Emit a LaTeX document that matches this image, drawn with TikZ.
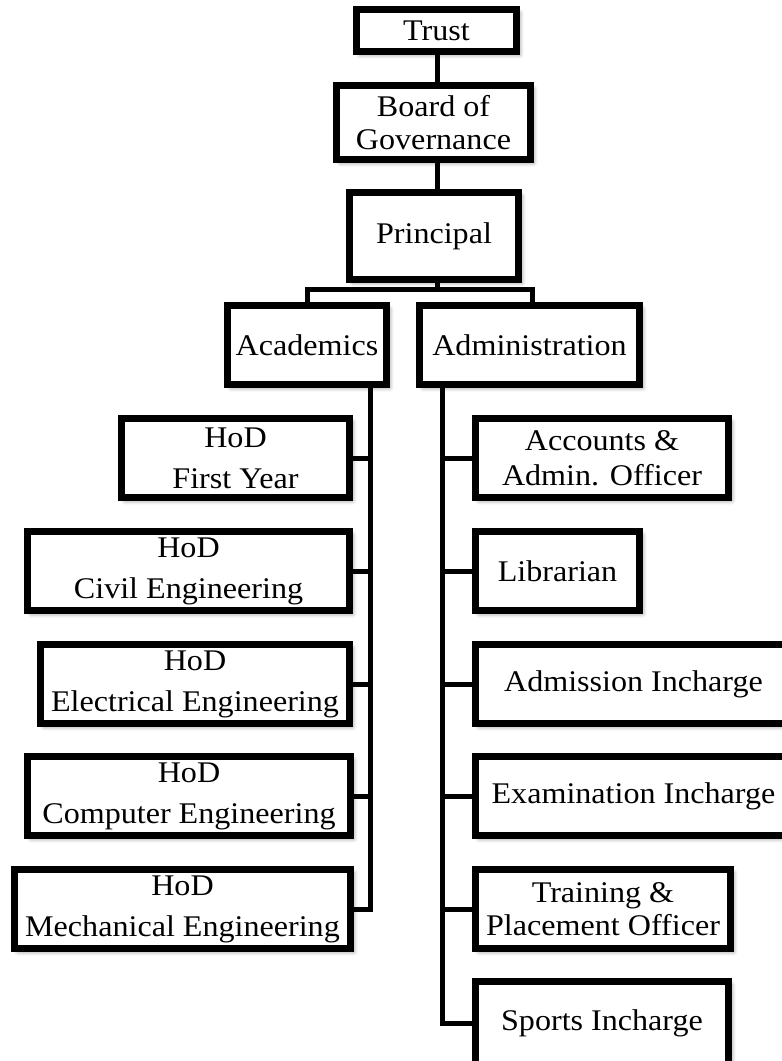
\documentclass[tikz,border=0pt]{standalone}
\usepackage{fontspec}
\setmainfont{Liberation Serif}[FakeStretch=1.07]
\usetikzlibrary{shadows.blur}
\tikzset{
  orgbox/.style={draw=black, line width=5.25pt, fill=white, inner sep=0pt, outer sep=0pt,
    align=center, font={\fontsize{22.5}{24.75}\selectfont},
    blur shadow={shadow xshift=2.5pt, shadow yshift=-2.5pt, shadow blur radius=3pt, shadow opacity=45}},
  tree/.style={line width=3.75pt, black, line join=miter}
}
% \orgnode{name}{x1}{y1}{x2}{y2}{text} -- path corners in pixel units
\newcommand\orgnode[6]{%
  \node[orgbox, minimum width={(#4-#2)*0.75pt}, minimum height={(#5-#3)*0.75pt}]
    (#1) at ({(#2+#4)/2},{(#3+#5)/2}) {#6};}
\begin{document}
\begin{tikzpicture}[x=0.75pt,y=-0.75pt]
\useasboundingbox (0,0) rectangle (782,1061);
\begin{scope}
\clip (0,0) rectangle (782,1061);
% top chain
\orgnode{trust}{356.5}{9.5}{516.5}{51.5}{Trust}
\orgnode{board}{336.5}{85.5}{530.5}{159.5}{Board of\\Governance}
\orgnode{prin}{349.5}{192.5}{518.5}{279.5}{Principal}
\orgnode{acad}{227.5}{305.5}{386.5}{384.5}{Academics}
\orgnode{admin}{419.5}{305.5}{639.5}{384.5}{Administration}
% left column
\orgnode{fy}{121.5}{418.5}{349.5}{497.5}{HoD\\[6pt]First Year}
\orgnode{civ}{27.5}{531.5}{349.5}{610.5}{HoD\\[6pt]Civil Engineering}
\orgnode{ele}{40.5}{644.5}{349.5}{723.5}{HoD\\[6pt]Electrical Engineering}
\orgnode{com}{27.5}{756.5}{350.5}{835.5}{HoD\\[6pt]Computer Engineering}
\orgnode{mec}{14.5}{869.5}{350.5}{948.5}{HoD\\[6pt]Mechanical Engineering}
% right column
\orgnode{acc}{475.5}{418.5}{728.5}{497.5}{Accounts \&\\[1.5pt]Admin. Officer}
\orgnode{lib}{475.5}{531.5}{639.5}{610.5}{Librarian}
\orgnode{adm}{475.5}{644.5}{791.5}{723.5}{Admission Incharge}
\orgnode{exa}{475.5}{756.5}{791.5}{835.5}{Examination Incharge}
\orgnode{tra}{475.5}{869.5}{730.5}{948.5}{Training \&\\Placement Officer}
\orgnode{spo}{475.5}{981.5}{728.5}{1066}{Sports Incharge}
% spine coordinates
\coordinate (lx) at (370.5,0);
\coordinate (rx) at (442,0);
\coordinate (cx) at (437,0);
\coordinate (ax) at (532,0);
% connectors
\draw[tree] (trust.south -| cx) -- (board.north -| cx);
\draw[tree] (board.south -| cx) -- (prin.north -| cx);
\draw[tree] (prin.south -| cx) -- ++(0,10) -| (acad.north);
\draw[tree] (prin.south -| cx) -- ++(0,10) -| (admin.north -| ax);
% left spine
\draw[tree] (acad.south -| lx) |- (mec.east);
\draw[tree] (fy.east -| lx) -- (fy.east);
\draw[tree] (civ.east -| lx) -- (civ.east);
\draw[tree] (ele.east -| lx) -- (ele.east);
\draw[tree] (com.east -| lx) -- (com.east);
% right spine
\draw[tree] (admin.south -| rx) |- (spo.west);
\draw[tree] (acc.west -| rx) -- (acc.west);
\draw[tree] (lib.west -| rx) -- (lib.west);
\draw[tree] (adm.west -| rx) -- (adm.west);
\draw[tree] (exa.west -| rx) -- (exa.west);
\draw[tree] (tra.west -| rx) -- (tra.west);
\end{scope}
\end{tikzpicture}
\end{document}
